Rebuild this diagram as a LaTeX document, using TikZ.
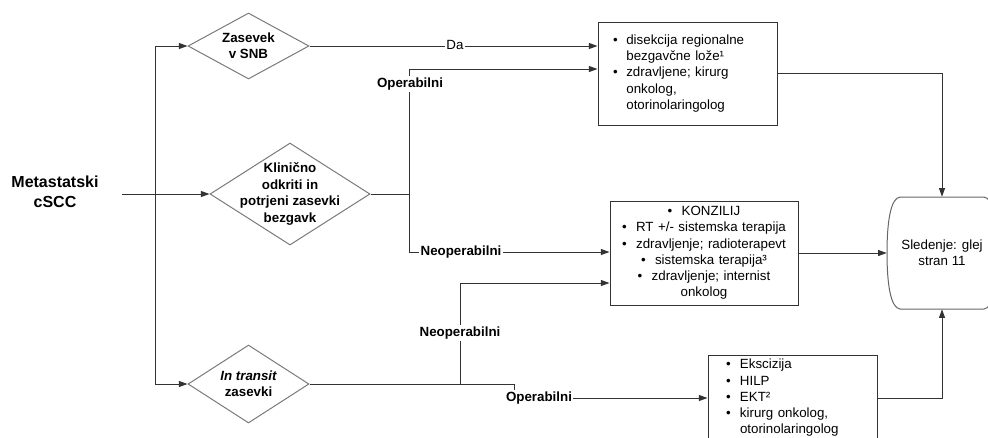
\documentclass[tikz,border=0pt]{standalone}
\usepackage{fontspec}
\setmainfont{Liberation Sans}
\usetikzlibrary{shapes.geometric,arrows.meta}

\definecolor{linec}{HTML}{333333}
\definecolor{diac}{HTML}{7A7A7A}
\definecolor{boxc}{HTML}{333333}
\definecolor{slc}{HTML}{666666}

\newcommand{\bul}[1]{\makebox[#1][l]{•}}

\tikzset{
  conn/.style={draw=linec, line width=0.75pt},
  arr/.style={conn, -{Triangle[length=6.5pt,width=4.5pt]}},
  dia/.style={diamond, draw=diac, line width=0.75pt, inner sep=0pt},
  dtext/.style={font=\fontsize{10}{12.3}\selectfont\bfseries, align=center, inner sep=0pt},
  box/.style={draw=boxc, line width=0.75pt, fill=white, font=\fontsize{10}{12.2}\selectfont},
  elab/.style={fill=white, inner sep=1pt, font=\fontsize{10}{12}\selectfont\bfseries},
  plab/.style={fill=white, inner sep=1pt, font=\fontsize{10}{12}\selectfont},
}

\begin{document}
\begin{tikzpicture}[x=0.75pt, y=-0.75pt]
\useasboundingbox (0,0) rectangle (988,437);
\clip (0,0) rectangle (988,437);

% start label
\node[font=\fontsize{12}{15}\selectfont\bfseries, align=center] (meta) at (55,192) {Metastatski\\cSCC};

% decision diamonds
\node[dia, minimum width=90.75pt, minimum height=49.5pt] (zas) at (248.5,46) {};
\node[dtext] (zas-t) at (zas) {Zasevek\\v SNB};
\node[dia, minimum width=120pt, minimum height=76.5pt] (kl) at (290,194) {};
\node[dtext] (kl-t) at (kl) {Klinično\\odkriti in\\potrjeni zasevki\\bezgavk};
\node[dia, minimum width=90.75pt, minimum height=58.5pt] (tr) at (248.5,384) {};
\node[dtext] (tr-t) at (tr) {\itshape In transit\\zasevki};

% treatment boxes
\node[box, minimum width=134.25pt, minimum height=77.25pt, text width=111.75pt,
      inner xsep=11.25pt, align=left] (b1) at (687.5,73.5)
  {\bul{10pt}disekcija regionalne\\\hspace*{10pt}bezgavčne lože¹\\\bul{10pt}zdravljene; kirurg\\\hspace*{10pt}onkolog,\\\hspace*{10pt}otorinolaringolog};
\node[box, minimum width=141pt, minimum height=78pt, text width=135pt,
      inner xsep=3pt, align=center] (b2) at (704,253)
  {•\hspace{7pt}KONZILIJ\\•\hspace{7pt}RT +/- sistemska terapija\\•\hspace{7pt}zdravljenje; radioterapevt\\•\hspace{7pt}sistemska terapija³\\•\hspace{7pt}zdravljenje; internist\\onkolog};
\node[box, minimum width=126.75pt, minimum height=64.5pt, text width=99.75pt,
      inner xsep=13.5pt, inner ysep=2pt, align=left] (b3) at (792.5,398)
  {\bul{10.5pt}Ekscizija\\\bul{10.5pt}HILP\\\bul{10.5pt}EKT²\\\bul{10.5pt}kirurg onkolog,\\\hspace*{10.5pt}otorinolaringolog};

% follow-up terminal
\node[font=\fontsize{10}{12.2}\selectfont, align=center, minimum width=82.5pt, minimum height=84pt, inner sep=0pt] (sl) at (942,253) {Sledenje: glej\\stran 11};
\draw[slc, line width=0.75pt] (900,197) -- (984,197)
  .. controls (993,198) and (997,220) .. (997,253)
  .. controls (997,286) and (993,308) .. (984,309) -- (900,309)
  .. controls (891,308) and (887,286) .. (887,253)
  .. controls (887,220) and (891,198) .. (900,197) -- cycle;

% junction points
\coordinate (mstart) at (122,194);
\coordinate (jt) at (155,46);
\coordinate (jb) at (155,384);
\coordinate (kj) at (409,194);
\coordinate (op1) at (409,69);
\coordinate (neo1) at (409,252);
\coordinate (tj) at (514,384);
\coordinate (op2) at (514,398);
\coordinate (neo2) at (460,384);
\coordinate (neo2t) at (460,283);

% connectors from the start
\draw[arr] (mstart) -- (kl.west);
\draw[conn] (jt) -- (jb);
\draw[arr] (jt) -- (zas.west);
\draw[arr] (jb) -- (tr.west);

% SNB branch
\draw[arr] (zas.east) -- (zas.east -| b1.west);

% clinical branch
\draw[conn] (kl.east) -- (kj);
\draw[arr] (kj) -- (op1) -- (op1 -| b1.west);
\draw[arr] (kj) -- (neo1) -- (neo1 -| b2.west);

% in-transit branch
\draw[conn] (tr.east) -- (tj);
\draw[arr] (tj) -- (op2) -- (op2 -| b3.west);
\draw[arr] (neo2) -- (neo2t) -- (neo2t -| b2.west);

% to follow-up
\draw[arr] (b1.east) -| (sl.north);
\draw[arr] (b2.east) -- (sl.west);
\draw[arr] (b3.east) -| (sl.south);

% edge labels
\node[plab] (l-da) at (455,45) {Da};
\node[elab] (l-op1) at (410,84) {Operabilni};
\node[elab] (l-neo1) at (461,252) {Neoperabilni};
\node[elab] (l-neo2) at (460,333) {Neoperabilni};
\node[elab] (l-op2) at (539,398) {Operabilni};
\end{tikzpicture}
\end{document}
